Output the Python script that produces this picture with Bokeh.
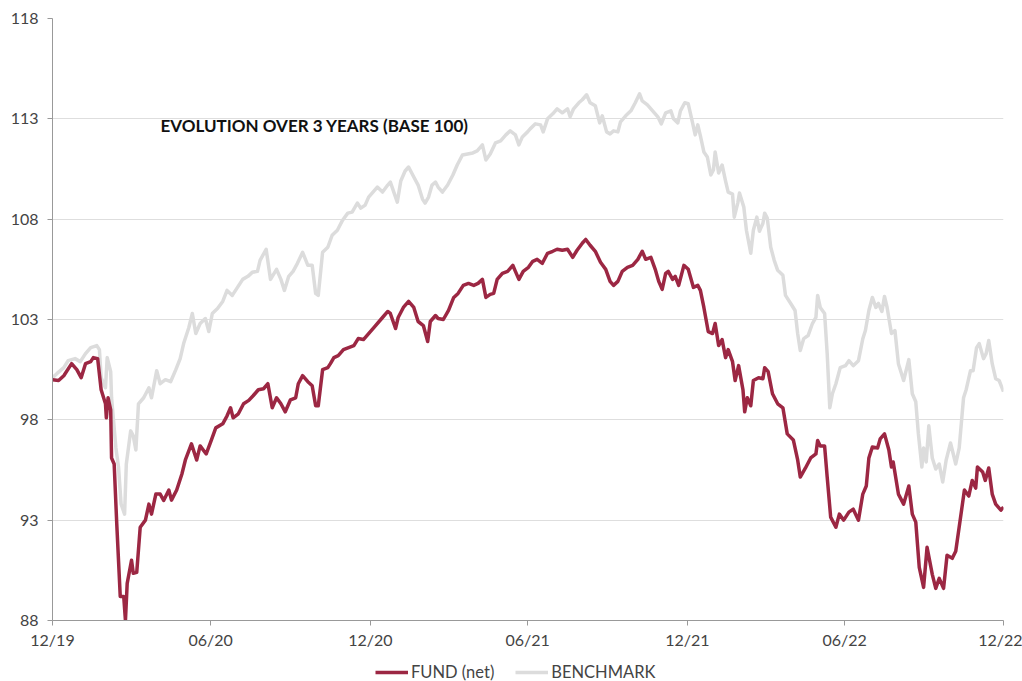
import pandas as pd
from bokeh.plotting import figure
from bokeh.layouts import column
from bokeh.models import (Legend, LegendItem, Label, FixedTicker, DatetimeTickFormatter,
                          Range1d)
from bokeh.embed import file_html
from bokeh.resources import INLINE

# ---------------- data ----------------
fund_dates = [
    "2019-12-31", "2020-01-07", "2020-01-13", "2020-01-22", "2020-01-28", "2020-02-02", "2020-02-07",
    "2020-02-13", "2020-02-16", "2020-02-21", "2020-02-25", "2020-03-01", "2020-03-02", "2020-03-04",
    "2020-03-07", "2020-03-08", "2020-03-11", "2020-03-14", "2020-03-18", "2020-03-22", "2020-03-24",
    "2020-03-26", "2020-03-31", "2020-04-02", "2020-04-06", "2020-04-10", "2020-04-16", "2020-04-20",
    "2020-04-23", "2020-04-28", "2020-05-03", "2020-05-07", "2020-05-13", "2020-05-16", "2020-05-22",
    "2020-05-28", "2020-06-01", "2020-06-08", "2020-06-14", "2020-06-18", "2020-06-25", "2020-07-01",
    "2020-07-06", "2020-07-14", "2020-07-19", "2020-07-23", "2020-07-26", "2020-08-01", "2020-08-07",
    "2020-08-13", "2020-08-18", "2020-08-24", "2020-08-30", "2020-09-04", "2020-09-09", "2020-09-14",
    "2020-09-19", "2020-09-24", "2020-09-30", "2020-10-06", "2020-10-09", "2020-10-14", "2020-10-20",
    "2020-10-25", "2020-10-29", "2020-11-01", "2020-11-06", "2020-11-12", "2020-11-15", "2020-11-19",
    "2020-11-24", "2020-11-30", "2020-12-06", "2020-12-12", "2020-12-17", "2020-12-23", "2020-12-29",
    "2021-01-04", "2021-01-14", "2021-01-20", "2021-01-23", "2021-01-29", "2021-02-01", "2021-02-07",
    "2021-02-13", "2021-02-19", "2021-02-24", "2021-03-02", "2021-03-07", "2021-03-10", "2021-03-16",
    "2021-03-19", "2021-03-25", "2021-03-31", "2021-04-06", "2021-04-11", "2021-04-17", "2021-04-23",
    "2021-04-29", "2021-05-04", "2021-05-09", "2021-05-13", "2021-05-18", "2021-05-22", "2021-05-26",
    "2021-06-01", "2021-06-07", "2021-06-13", "2021-06-16", "2021-06-20", "2021-06-25", "2021-07-01",
    "2021-07-06", "2021-07-11", "2021-07-17", "2021-07-23", "2021-07-29", "2021-08-03", "2021-08-09",
    "2021-08-15", "2021-08-21", "2021-08-26", "2021-09-01", "2021-09-05", "2021-09-10", "2021-09-16",
    "2021-09-22", "2021-09-28", "2021-10-03", "2021-10-07", "2021-10-12", "2021-10-17", "2021-10-23",
    "2021-10-29", "2021-11-04", "2021-11-09", "2021-11-13", "2021-11-19", "2021-11-24", "2021-11-28",
    "2021-12-02", "2021-12-06", "2021-12-09", "2021-12-14", "2021-12-17", "2021-12-21", "2021-12-27",
    "2022-01-01", "2022-01-07", "2022-01-12", "2022-01-15", "2022-01-19", "2022-01-24", "2022-01-29",
    "2022-02-01", "2022-02-05", "2022-02-09", "2022-02-13", "2022-02-16", "2022-02-21", "2022-02-24",
    "2022-02-28", "2022-03-05", "2022-03-07", "2022-03-10", "2022-03-14", "2022-03-17", "2022-03-23",
    "2022-03-28", "2022-03-30", "2022-04-03", "2022-04-08", "2022-04-14", "2022-04-20", "2022-04-25",
    "2022-05-02", "2022-05-07", "2022-05-10", "2022-05-16", "2022-05-22", "2022-05-28", "2022-05-30",
    "2022-06-02", "2022-06-07", "2022-06-10", "2022-06-14", "2022-06-20", "2022-06-24", "2022-06-29",
    "2022-07-05", "2022-07-10", "2022-07-16", "2022-07-21", "2022-07-25", "2022-07-28", "2022-08-01",
    "2022-08-07", "2022-08-10", "2022-08-15", "2022-08-20", "2022-08-23", "2022-08-25", "2022-08-31",
    "2022-09-06", "2022-09-12", "2022-09-16", "2022-09-20", "2022-09-24", "2022-09-29", "2022-10-03",
    "2022-10-09", "2022-10-13", "2022-10-17", "2022-10-22", "2022-10-26", "2022-11-01", "2022-11-05",
    "2022-11-10", "2022-11-15", "2022-11-20", "2022-11-24", "2022-11-28", "2022-11-30", "2022-12-06",
    "2022-12-09", "2022-12-13", "2022-12-17", "2022-12-21", "2022-12-27", "2022-12-30",
]
fund_values = [
    100.0, 99.96, 100.2, 100.8, 100.5, 100.1, 100.8,
    100.9, 101.1, 101.05, 99.5, 98.8, 98.1, 99.1,
    98.5, 96.1, 95.8, 92.8, 89.2, 89.2, 88.0,
    89.85, 91.0, 90.35, 90.4, 92.65, 93.0, 93.8,
    93.3, 94.3, 94.3, 93.98, 94.5, 94.0, 94.5,
    95.3, 96.0, 96.8, 96.0, 96.7, 96.3, 97.0,
    97.6, 97.8, 98.2, 98.6, 98.1, 98.3, 98.8,
    98.97, 99.2, 99.5, 99.55, 99.8, 98.6, 99.1,
    98.8, 98.4, 99.0, 99.1, 99.8, 100.2, 99.9,
    99.7, 98.7, 98.7, 100.5, 100.6, 100.8, 101.1,
    101.2, 101.5, 101.6, 101.7, 102.05, 102.0, 102.3,
    102.6, 103.1, 103.4, 103.3, 102.55, 103.1, 103.6,
    103.9, 103.6, 102.9, 102.7, 101.9, 102.9, 103.2,
    103.05, 103.0, 103.45, 104.1, 104.3, 104.7, 104.8,
    104.7, 104.8, 105.0, 104.1, 104.25, 104.3, 105.0,
    105.3, 105.4, 105.7, 105.4, 105.0, 105.4, 105.6,
    105.9, 106.0, 105.8, 106.3, 106.4, 106.5, 106.45,
    106.5, 106.1, 106.45, 106.8, 106.99, 106.7, 106.4,
    105.85, 105.5, 104.9, 104.7, 104.9, 105.4, 105.6,
    105.7, 106.0, 106.4, 106.0, 106.1, 105.5, 104.9,
    104.5, 105.3, 105.4, 105.0, 105.15, 104.7, 105.7,
    105.5, 104.6, 104.7, 104.45, 103.6, 102.4, 102.3,
    102.8, 101.7, 102.0, 101.1, 101.5, 100.9, 99.96,
    100.7, 99.5, 98.4, 99.1, 98.7, 99.96, 100.1,
    100.05, 100.6, 100.4, 99.3, 98.8, 98.6, 97.3,
    97.0, 96.0, 95.15, 95.6, 96.1, 96.3, 96.97,
    96.7, 96.7, 95.15, 93.15, 92.65, 93.3, 93.0,
    93.4, 93.55, 93.0, 94.3, 94.7, 96.1, 96.65,
    96.6, 97.05, 97.3, 96.5, 95.65, 95.9, 94.3,
    93.8, 94.7, 93.3, 92.9, 90.65, 89.65, 91.65,
    90.3, 89.6, 90.1, 89.6, 91.25, 91.1, 91.45,
    92.97, 94.5, 94.2, 94.98, 94.6, 95.65, 95.4,
    94.98, 95.6, 94.3, 93.8, 93.5, 93.65,
]

bench_dates = [
    "2019-12-31", "2020-01-05", "2020-01-13", "2020-01-18", "2020-01-26", "2020-02-01", "2020-02-07",
    "2020-02-13", "2020-02-20", "2020-02-23", "2020-02-25", "2020-03-01", "2020-03-03", "2020-03-07",
    "2020-03-08", "2020-03-13", "2020-03-16", "2020-03-19", "2020-03-23", "2020-03-25", "2020-03-30",
    "2020-04-02", "2020-04-05", "2020-04-08", "2020-04-14", "2020-04-20", "2020-04-23", "2020-04-29",
    "2020-05-03", "2020-05-09", "2020-05-15", "2020-05-21", "2020-05-26", "2020-05-30", "2020-06-05",
    "2020-06-09", "2020-06-13", "2020-06-18", "2020-06-24", "2020-06-28", "2020-07-02", "2020-07-08",
    "2020-07-14", "2020-07-19", "2020-07-25", "2020-07-31", "2020-08-06", "2020-08-12", "2020-08-17",
    "2020-08-23", "2020-08-26", "2020-09-02", "2020-09-07", "2020-09-14", "2020-09-19", "2020-09-23",
    "2020-09-28", "2020-10-03", "2020-10-08", "2020-10-14", "2020-10-20", "2020-10-25", "2020-10-29",
    "2020-11-01", "2020-11-06", "2020-11-12", "2020-11-17", "2020-11-23", "2020-11-29", "2020-12-05",
    "2020-12-10", "2020-12-16", "2020-12-20", "2020-12-25", "2020-12-29", "2021-01-02", "2021-01-08",
    "2021-01-14", "2021-01-20", "2021-01-23", "2021-01-27", "2021-01-31", "2021-02-04", "2021-02-09",
    "2021-02-13", "2021-02-19", "2021-02-24", "2021-03-01", "2021-03-04", "2021-03-08", "2021-03-12",
    "2021-03-16", "2021-03-19", "2021-03-24", "2021-03-30", "2021-04-05", "2021-04-10", "2021-04-16",
    "2021-04-22", "2021-04-28", "2021-05-03", "2021-05-09", "2021-05-13", "2021-05-18", "2021-05-24",
    "2021-05-30", "2021-06-05", "2021-06-10", "2021-06-16", "2021-06-20", "2021-06-24", "2021-06-30",
    "2021-07-03", "2021-07-09", "2021-07-15", "2021-07-18", "2021-07-23", "2021-07-29", "2021-08-03",
    "2021-08-09", "2021-08-15", "2021-08-18", "2021-08-22", "2021-08-28", "2021-09-01", "2021-09-06",
    "2021-09-10", "2021-09-16", "2021-09-21", "2021-09-24", "2021-09-29", "2021-10-03", "2021-10-07",
    "2021-10-12", "2021-10-15", "2021-10-21", "2021-10-27", "2021-11-01", "2021-11-06", "2021-11-09",
    "2021-11-15", "2021-11-21", "2021-11-27", "2021-12-01", "2021-12-06", "2021-12-12", "2021-12-15",
    "2021-12-20", "2021-12-23", "2021-12-28", "2022-01-01", "2022-01-06", "2022-01-09", "2022-01-12",
    "2022-01-15", "2022-01-19", "2022-01-23", "2022-01-27", "2022-01-30", "2022-02-01", "2022-02-05",
    "2022-02-09", "2022-02-13", "2022-02-16", "2022-02-21", "2022-02-23", "2022-02-27", "2022-03-01",
    "2022-03-06", "2022-03-09", "2022-03-14", "2022-03-17", "2022-03-21", "2022-03-24", "2022-03-28",
    "2022-03-30", "2022-04-02", "2022-04-06", "2022-04-10", "2022-04-14", "2022-04-20", "2022-04-23",
    "2022-04-29", "2022-05-04", "2022-05-07", "2022-05-10", "2022-05-14", "2022-05-19", "2022-05-24",
    "2022-05-28", "2022-05-30", "2022-06-02", "2022-06-07", "2022-06-10", "2022-06-13", "2022-06-16",
    "2022-06-20", "2022-06-25", "2022-07-01", "2022-07-05", "2022-07-10", "2022-07-16", "2022-07-21",
    "2022-07-24", "2022-07-28", "2022-08-01", "2022-08-05", "2022-08-08", "2022-08-12", "2022-08-15",
    "2022-08-18", "2022-08-23", "2022-08-27", "2022-08-31", "2022-09-06", "2022-09-12", "2022-09-16",
    "2022-09-20", "2022-09-23", "2022-09-27", "2022-09-29", "2022-10-02", "2022-10-05", "2022-10-09",
    "2022-10-13", "2022-10-17", "2022-10-21", "2022-10-25", "2022-10-30", "2022-11-05", "2022-11-09",
    "2022-11-14", "2022-11-17", "2022-11-22", "2022-11-25", "2022-11-29", "2022-12-02", "2022-12-07",
    "2022-12-10", "2022-12-13", "2022-12-17", "2022-12-21", "2022-12-25", "2022-12-30",
]
bench_values = [
    100.1, 100.3, 100.6, 100.95, 101.05, 100.9, 101.3,
    101.6, 101.7, 101.5, 100.1, 99.6, 101.1, 100.4,
    99.1, 96.6, 95.65, 93.8, 93.3, 95.8, 97.45,
    97.2, 96.5, 98.8, 99.1, 99.6, 99.1, 100.45,
    99.8, 100.0, 99.9, 100.5, 101.05, 101.8, 102.6,
    103.3, 102.3, 102.8, 103.05, 102.4, 103.3, 103.55,
    103.9, 104.45, 104.2, 104.6, 105.0, 105.15, 105.35,
    105.4, 105.95, 106.5, 105.0, 105.5, 105.0, 104.45,
    105.15, 105.4, 105.8, 106.35, 105.7, 105.7, 104.3,
    104.2, 106.35, 106.6, 107.2, 107.45, 107.95, 108.3,
    108.35, 108.8, 108.55, 108.7, 109.1, 109.3, 109.6,
    109.35, 109.7, 109.85, 109.35, 108.85, 109.9, 110.4,
    110.6, 110.1, 109.7, 109.0, 108.8, 109.1, 109.7,
    109.85, 109.6, 109.35, 109.7, 110.2, 110.7, 111.2,
    111.25, 111.3, 111.4, 111.7, 110.95, 111.25, 111.8,
    111.9, 112.2, 112.4, 112.2, 111.7, 112.1, 112.35,
    112.5, 112.75, 112.7, 112.35, 113.0, 113.25, 113.5,
    113.3, 113.5, 113.1, 113.5, 113.8, 113.95, 114.2,
    113.8, 113.65, 112.8, 113.15, 112.35, 112.25, 112.4,
    112.35, 112.85, 113.15, 113.4, 113.8, 114.25, 113.9,
    113.7, 113.4, 113.1, 112.75, 113.3, 113.4, 113.0,
    112.8, 113.4, 113.8, 113.75, 112.8, 112.2, 112.7,
    112.15, 111.35, 111.1, 110.2, 110.45, 111.35, 110.3,
    110.7, 109.9, 109.35, 109.25, 108.1, 108.8, 109.3,
    108.6, 107.45, 106.3, 107.45, 108.1, 107.4, 107.8,
    108.3, 108.05, 106.6, 105.95, 105.45, 105.2, 104.2,
    103.8, 103.45, 102.3, 101.45, 102.05, 102.2, 102.8,
    103.1, 104.2, 103.6, 103.3, 101.3, 98.6, 99.3,
    99.8, 100.6, 100.7, 100.95, 100.7, 100.95, 102.04,
    102.45, 103.45, 104.1, 103.6, 103.8, 103.4, 104.15,
    103.6, 102.3, 102.45, 100.8, 99.96, 101.0, 99.3,
    98.9, 97.3, 95.65, 96.6, 95.9, 97.7, 96.1,
    95.55, 95.8, 94.9, 96.0, 96.85, 95.8, 96.6,
    99.1, 99.5, 100.45, 100.45, 101.6, 101.8, 101.05,
    101.3, 101.95, 100.8, 100.05, 99.96, 99.4,
]

tick_dates = ["2019-12-31", "2020-06-30", "2020-12-31", "2021-06-30",
              "2021-12-31", "2022-06-30", "2022-12-30"]
y_ticks = [88, 93, 98, 103, 108, 113, 118]
series_names = ["FUND (net)", "BENCHMARK"]
title_text = "EVOLUTION OVER 3 YEARS (BASE 100)"

# ---------------- figure ----------------
FONT = "Lato"
RED = "#9c2743"
GREY = "#dcdcdc"

x0 = pd.Timestamp(tick_dates[0])
x1 = pd.Timestamp(tick_dates[-1])
fund_x = pd.to_datetime(fund_dates)
bench_x = pd.to_datetime(bench_dates)

p = figure(frame_width=951, frame_height=602,
           x_axis_type="datetime",
           x_range=Range1d(x0, x1), y_range=Range1d(y_ticks[0], y_ticks[-1]),
           output_backend="svg", toolbar_location=None,
           min_border_left=52, min_border_right=19, min_border_top=18, min_border_bottom=30)
p.outline_line_color = None
p.background_fill_color = "white"
p.border_fill_color = "white"

line_style = dict(line_width=3.5, line_join="round")
r_bench = p.line(bench_x, bench_values, line_color=GREY, **line_style)
r_fund = p.line(fund_x, fund_values, line_color=RED, **line_style)

# axes
tick_ms = [pd.Timestamp(d).value / 1e6 for d in tick_dates]
p.xaxis.ticker = FixedTicker(ticks=tick_ms)
fmt = "%m/%y"
p.xaxis.formatter = DatetimeTickFormatter(milliseconds=fmt, seconds=fmt, minsec=fmt, minutes=fmt,
                                          hourmin=fmt, hours=fmt, days=fmt, months=fmt, years=fmt)
p.yaxis.ticker = FixedTicker(ticks=y_ticks)

for ax in (p.xaxis, p.yaxis):
    ax.axis_line_color = "#999999"
    ax.axis_line_width = 1
    ax.major_tick_line_color = "#999999"
    ax.major_tick_out = 5
    ax.major_tick_in = 0
    ax.minor_tick_line_color = None
    ax.major_label_text_font = FONT
    ax.major_label_text_font_size = "16px"
    ax.major_label_text_color = "#444444"
p.yaxis.major_label_standoff = 9
p.xaxis.major_label_standoff = 4

p.xgrid.grid_line_color = None
p.ygrid.grid_line_color = "#dedede"
p.ygrid.grid_line_width = 1

# title label inside plot
p.add_layout(Label(x=108, y=495, x_units="screen", y_units="screen", text=title_text,
                   text_font=FONT, text_font_size="17px", text_font_style="bold",
                   text_color="#111111", text_baseline="middle"))

# ---------------- legend strip below the chart ----------------
# Same series, drawn on a strip whose ranges keep them out of view: only the legend shows.
lg = figure(width=1022, height=31, output_backend="svg", toolbar_location=None,
            x_axis_location=None, y_axis_location=None,
            min_border=0, x_range=Range1d(0, 1), y_range=Range1d(0, 1))
lg.grid.visible = False
lg.outline_line_color = None
lg.border_fill_color = "white"
lg.background_fill_color = "white"
lf = lg.line(fund_x, fund_values, line_color=RED, **line_style)
lb = lg.line(bench_x, bench_values, line_color=GREY, **line_style)

legend = Legend(items=[LegendItem(label=series_names[0], renderers=[lf]),
                       LegendItem(label=series_names[1], renderers=[lb])],
                orientation="horizontal", location=(323, 0),
                label_text_font=FONT, label_text_font_size="16.5px", label_text_color="#444444",
                glyph_width=33, glyph_height=20, label_standoff=3, spacing=21,
                border_line_color=None, background_fill_alpha=0, padding=0, margin=0)
lg.add_layout(legend, "center")

layout = column(p, lg, spacing=0)
open("out.html", "w").write(file_html(layout, INLINE))
